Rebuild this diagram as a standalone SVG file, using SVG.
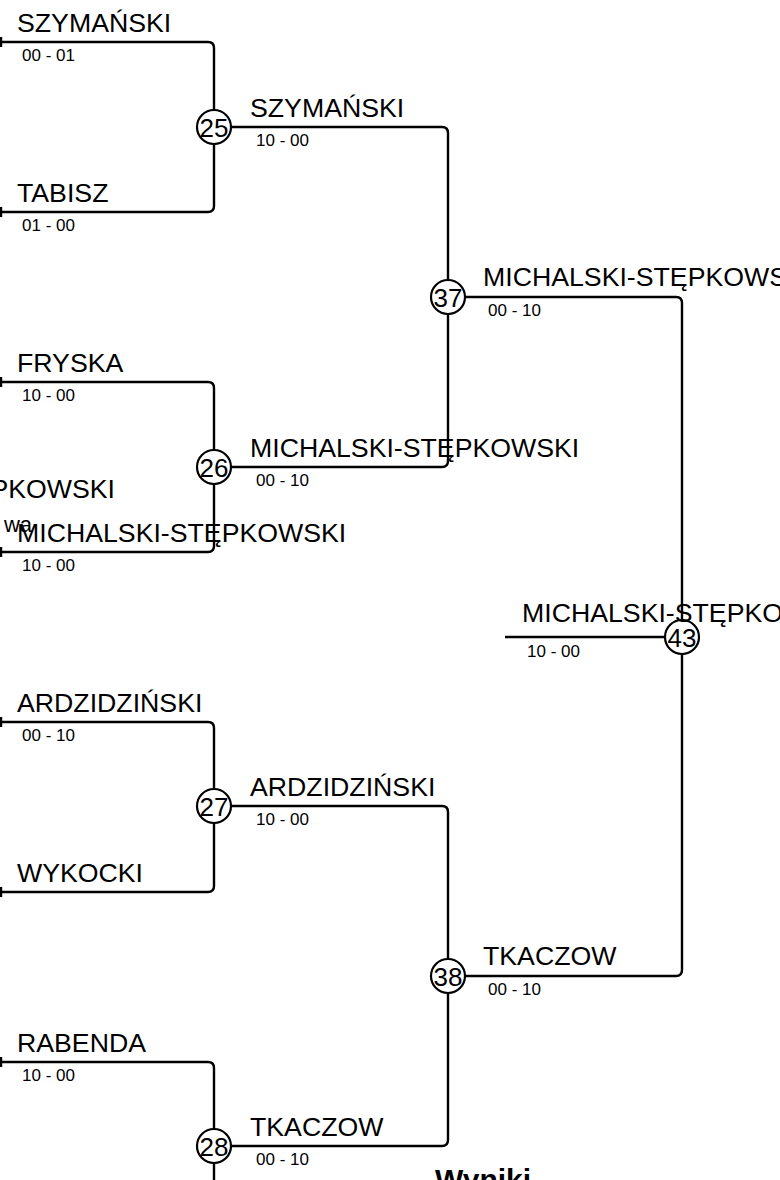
<svg xmlns="http://www.w3.org/2000/svg" width="780" height="1180" viewBox="0 0 780 1180">
<style>
.ln{fill:none;stroke:#000;stroke-width:2.4;stroke-linejoin:round;stroke-linecap:butt}
.nd circle{fill:#fff;stroke:#000;stroke-width:2.2}
.num{font-family:"Liberation Sans",Arial,sans-serif;font-size:26px;fill:#000;text-anchor:middle}
.nm{font-family:"Liberation Sans",Arial,sans-serif;font-size:26.7px;fill:#000}
.sc{font-family:"Liberation Sans",Arial,sans-serif;font-size:17px;fill:#000}
.ttl{font-family:"Liberation Sans",Arial,sans-serif;font-size:30px;font-weight:bold;fill:#000}
</style>
<rect width="780" height="1180" fill="#fff"/>
<g id="connectors" class="ln">
<path d="M0,42 H208 Q214,42 214,48 V206 Q214,212 208,212 H0"/>
<path d="M0,382 H208 Q214,382 214,388 V546 Q214,552 208,552 H0"/>
<path d="M0,722 H208 Q214,722 214,728 V886 Q214,892 208,892 H0"/>
<path d="M0,1062 H208 Q214,1062 214,1068 V1180"/>
<path d="M214,127 H442 Q448,127 448,133 V461 Q448,467 442,467 H214"/>
<path d="M214,806 H442 Q448,806 448,812 V1140 Q448,1146 442,1146 H214"/>
<path d="M448,297 H676 Q682,297 682,303 V970 Q682,976 676,976 H448"/>
<path d="M505,637 H682"/>
<path d="M1,37 V47 M1,207 V217 M1,377 V387 M1,547 V557 M1,717 V727 M1,887 V897 M1,1057 V1067"/>
</g>
<g id="labels">
<text class="nm" x="115" y="498" text-anchor="end">MICHALSKI-STĘPKOWSKI</text>
<text class="nm" x="32" y="532" text-anchor="end" style="font-size:22px">wa</text>
<text class="nm" x="17" y="32">SZYMAŃSKI</text>
<text class="sc" x="22" y="61">00 - 01</text>
<text class="nm" x="17" y="202">TABISZ</text>
<text class="sc" x="22" y="231">01 - 00</text>
<text class="nm" x="17" y="372">FRYSKA</text>
<text class="sc" x="22" y="401">10 - 00</text>
<text class="nm" x="17" y="542">MICHALSKI-STĘPKOWSKI</text>
<text class="sc" x="22" y="571">10 - 00</text>
<text class="nm" x="17" y="712">ARDZIDZIŃSKI</text>
<text class="sc" x="22" y="741">00 - 10</text>
<text class="nm" x="17" y="882">WYKOCKI</text>
<text class="nm" x="17" y="1052">RABENDA</text>
<text class="sc" x="22" y="1081">10 - 00</text>
<text class="nm" x="250" y="117">SZYMAŃSKI</text>
<text class="sc" x="256" y="146">10 - 00</text>
<text class="nm" x="250" y="457">MICHALSKI-STĘPKOWSKI</text>
<text class="sc" x="256" y="486">00 - 10</text>
<text class="nm" x="250" y="796">ARDZIDZIŃSKI</text>
<text class="sc" x="256" y="825">10 - 00</text>
<text class="nm" x="250" y="1136">TKACZOW</text>
<text class="sc" x="256" y="1165">00 - 10</text>
<text class="nm" x="483" y="286">MICHALSKI-STĘPKOWSKI</text>
<text class="sc" x="488" y="316">00 - 10</text>
<text class="nm" x="483" y="965">TKACZOW</text>
<text class="sc" x="488" y="995">00 - 10</text>
</g>
<g id="m25" class="nd"><circle cx="214" cy="127" r="17"/><text class="num" x="214" y="136.5">25</text></g>
<g id="m26" class="nd"><circle cx="214" cy="467" r="17"/><text class="num" x="214" y="476.5">26</text></g>
<g id="m27" class="nd"><circle cx="214" cy="806" r="17"/><text class="num" x="214" y="815.5">27</text></g>
<g id="m28" class="nd"><circle cx="214" cy="1146" r="17"/><text class="num" x="214" y="1155.5">28</text></g>
<g id="m37" class="nd"><circle cx="448" cy="297" r="17"/><text class="num" x="448" y="306.5">37</text></g>
<g id="m38" class="nd"><circle cx="448" cy="976" r="17"/><text class="num" x="448" y="985.5">38</text></g>
<g id="m43" class="nd"><circle cx="682" cy="637" r="17"/><text class="num" x="682" y="646.5">43</text></g>
<g id="final">
<text class="nm" x="522" y="622">MICHALSKI-STĘPKOWSKI</text>
<text class="sc" x="527" y="657">10 - 00</text>
</g>
<text class="ttl" x="435" y="1190">Wyniki</text>
</svg>
